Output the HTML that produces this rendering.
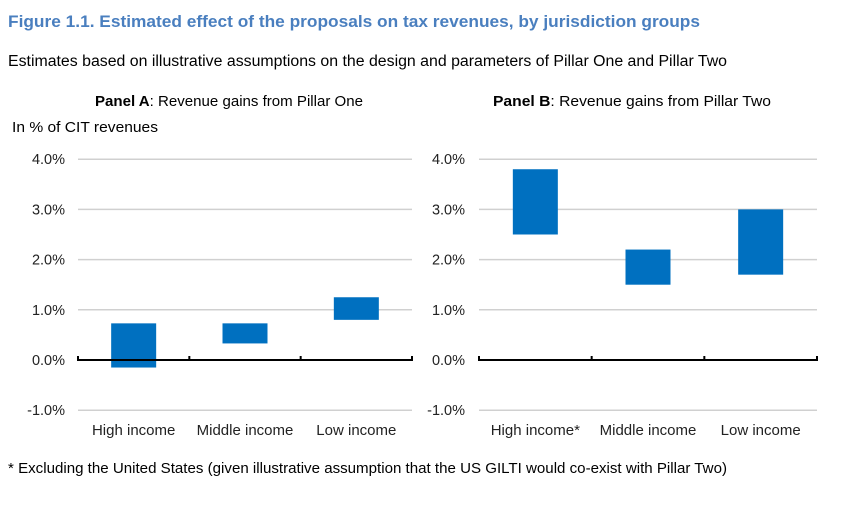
<!DOCTYPE html>
<html><head><meta charset="utf-8"><style>
body{margin:0;background:#fff;width:845px;height:501px;overflow:hidden;font-family:"Liberation Sans",Arial,sans-serif}
svg text{font-family:"Liberation Sans",Arial,sans-serif}
</style></head><body>
<svg id="chart" width="845" height="501">
<text x="8" y="27" font-size="17" font-weight="bold" fill="#4a7fbf" textLength="692" lengthAdjust="spacingAndGlyphs">Figure 1.1. Estimated effect of the proposals on tax revenues, by jurisdiction groups</text>
<text x="8" y="66" font-size="15.5" fill="#000" textLength="719" lengthAdjust="spacingAndGlyphs">Estimates based on illustrative assumptions on the design and parameters of Pillar One and Pillar Two</text>
<text x="95" y="106" font-size="15" textLength="268" lengthAdjust="spacingAndGlyphs"><tspan font-weight="bold">Panel A</tspan>: Revenue gains from Pillar One</text>
<text x="493" y="106" font-size="15" textLength="278" lengthAdjust="spacingAndGlyphs"><tspan font-weight="bold">Panel B</tspan>: Revenue gains from Pillar Two</text>
<text x="12" y="132" font-size="15" textLength="146" lengthAdjust="spacingAndGlyphs">In % of CIT revenues</text>
<text x="8" y="473" font-size="15" textLength="719" lengthAdjust="spacingAndGlyphs">* Excluding the United States (given illustrative assumption that the US GILTI would co-exist with Pillar Two)</text>
<g id="plots"></g>
</svg>
<script>
const ticks=[-1,0,1,2,3,4];
const tickLabels=["-1.0%","0.0%","1.0%","2.0%","3.0%","4.0%"];
const catsA=["High income","Middle income","Low income"];
const lowA=[-0.15,0.33,0.8];
const highA=[0.73,0.73,1.25];
const catsB=["High income*","Middle income","Low income"];
const lowB=[2.5,1.5,1.7];
const highB=[3.8,2.2,3.0];
const NS="http://www.w3.org/2000/svg";
const g=document.getElementById('plots');
function mk(t,a){const e=document.createElementNS(NS,t);for(const k in a)e.setAttribute(k,a[k]);g.appendChild(e);return e;}
function panel(x0,x1,labelX,cats,lo,hi,key){
  const y=v=>360-v*50.2;
  const bw=(x1-x0)/cats.length;
  ticks.forEach((t,i)=>{
    if(t!==0){const l=mk('line',{x1:x0,x2:x1,y1:y(t),y2:y(t),stroke:'#d0d0d0','stroke-width':1.5});
    
    }
    const tx=mk('text',{x:labelX,y:y(t)+5,'font-size':14.5,'text-anchor':'end',fill:'#222'});
    tx.textContent=tickLabels[i];
    
    
  });
  cats.forEach((c,i)=>{
    const cx=x0+bw*(i+0.5);
    const r=mk('rect',{x:cx-22.5,y:y(hi[i]),width:45,height:y(lo[i])-y(hi[i]),fill:'#0070c0'});
    
    
    const t=mk('text',{x:cx,y:435,'font-size':15,'text-anchor':'middle',fill:'#222'});
    t.textContent=c;
    
    
  });
  const ax=mk('line',{x1:x0,x2:x1,y1:y(0),y2:y(0),stroke:'#000','stroke-width':2});
  
  
  for(let i=0;i<=cats.length;i++){
    const tk=mk('line',{x1:x0+bw*i,x2:x0+bw*i,y1:y(0)-4,y2:y(0)+1,stroke:'#000','stroke-width':2});
    
    
  }
}
panel(78,412,65,catsA,lowA,highA,'panel-a');
panel(479,817,465,catsB,lowB,highB,'panel-b');
</script>
</body></html>
